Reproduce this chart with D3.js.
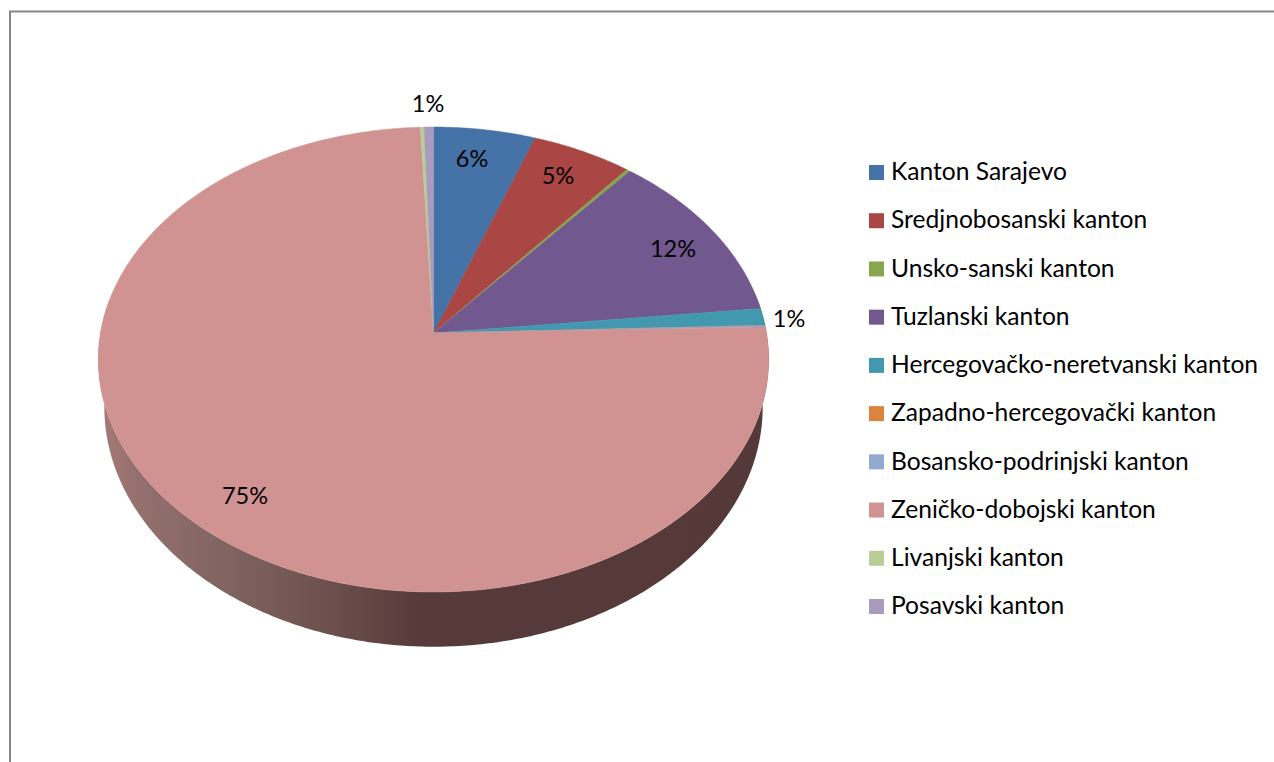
<!DOCTYPE html>
<html>
<head>
<meta charset="utf-8">
<script src="https://cdn.jsdelivr.net/npm/d3@7"></script>
<style>
    html, body { margin: 0; padding: 0; background: #fff; }
    svg { display: block; }
    text { font-family: Lato, "Open Sans", sans-serif; fill: #000; }
</style>
</head>
<body>
<div id="chart"></div>
<script>
const categories = [
    "Kanton Sarajevo",
    "Sredjnobosanski kanton",
    "Unsko-sanski kanton",
    "Tuzlanski kanton",
    "Hercegovačko-neretvanski kanton",
    "Zapadno-hercegovački kanton",
    "Bosansko-podrinjski kanton",
    "Zeničko-dobojski kanton",
    "Livanjski kanton",
    "Posavski kanton"
];
const shares = [5.5, 5.4, 0.2, 12.2, 1.2, 0, 0.1, 74.8, 0.2, 0.5];
const colors = ["#4572A7", "#AA4643", "#89A54E", "#71588F", "#4198AF", "#DB843D", "#93A9CF", "#D19392", "#B9CD96", "#A99BBD"];
const sideColors = ["#a87a78", "#94706e", "#7f635e", "#6a4e4b", "#573a3a", "#553838"];
const sideOffsets = [0, 0.06, 0.2, 0.36, 0.48, 1];

const width = 1274;
const height = 762;

const svg = d3.select("#chart")
    .append("svg")
    .attr("width", width)
    .attr("height", height);

// chart frame, only top and left edges are in the crop
svg.append("path")
    .attr("d", `M10,${height}V11.5H${width}`)
    .attr("fill", "none")
    .attr("stroke", "#868686")
    .attr("stroke-width", 2);

// perspective of the pie disc: u, v in -1..1, v towards the viewer
const persp = -0.114;
function project(u, v, top) {
    const w = 1 + persp * v;
    const cx = 433.5;
    if (top) return [cx + 333 * u / w, (333 + 191.5 * v) / w];
    return [cx + 327 * u / w, (380 + 193 * v) / w];
}
const onRim = (a, top) => project(Math.sin(a), -Math.cos(a), top);

const line = d3.line();
const pie = d3.pie().sort(null).value(d => d);
const slices = pie(shares);

function rimPoints(a0, a1, top) {
    const n = Math.max(1, Math.ceil((a1 - a0) / 0.01));
    return d3.range(n + 1).map(i => onRim(a0 + (a1 - a0) * i / n, top));
}

// side wall
const grad = svg.append("defs").append("linearGradient")
    .attr("id", "side")
    .attr("gradientUnits", "userSpaceOnUse")
    .attr("x1", 98).attr("x2", 768).attr("y1", 0).attr("y2", 0);
sideColors.forEach((c, i) => {
    grad.append("stop")
        .attr("offset", sideOffsets[i])
        .attr("stop-color", c);
});

const a0 = Math.PI * 0.45;
const a1 = Math.PI * 1.55;
svg.append("path")
    .attr("d", line(rimPoints(a0, a1, true).concat(rimPoints(a0, a1, false).reverse())) + "Z")
    .attr("fill", "url(#side)");

// top face
svg.selectAll(".slice")
    .data(slices)
    .enter()
    .append("path")
    .attr("class", "slice")
    .attr("d", d => line([project(0, 0, true)].concat(rimPoints(d.startAngle, d.endAngle, true))) + "Z")
    .attr("fill", (d, i) => colors[i])
    .attr("stroke", (d, i) => colors[i])
    .attr("stroke-width", 0.5);

// percent labels
const labelPos = [[472, 161], [558, 178], null, [673, 251], [789, 321], null, null, [245, 498], null, [428, 106]];
svg.selectAll(".label")
    .data(slices.filter((d, i) => labelPos[i]))
    .enter()
    .append("text")
    .attr("class", "label")
    .attr("x", d => labelPos[d.index][0])
    .attr("y", d => labelPos[d.index][1])
    .attr("text-anchor", "middle")
    .attr("dominant-baseline", "middle")
    .style("font-size", "23.5px")
    .text(d => Math.round(d.value) + "%");

// legend
const legendY = d3.scalePoint()
    .domain(categories)
    .range([172, 606]);

const legend = svg.selectAll(".legend")
    .data(categories)
    .enter()
    .append("g")
    .attr("class", "legend")
    .attr("transform", d => `translate(869,${legendY(d)})`);

legend.append("rect")
    .attr("y", -7)
    .attr("width", 15)
    .attr("height", 15)
    .attr("fill", (d, i) => colors[i]);

legend.append("text")
    .attr("x", 22)
    .attr("y", 2)
    .attr("dominant-baseline", "middle")
    .style("font-size", "24.6px")
    .text(d => d);
</script>
</body>
</html>
